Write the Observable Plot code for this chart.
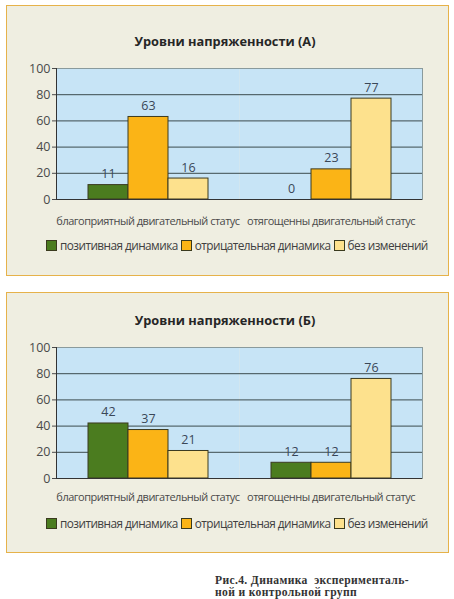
<!DOCTYPE html>
<html>
<head>
<meta charset="utf-8">
<script src="https://cdn.jsdelivr.net/npm/d3@7"></script>
<script src="https://cdn.jsdelivr.net/npm/@observablehq/plot@0.6"></script>
<style>
  html, body { margin: 0; padding: 0; background: #ffffff; }
  body { width: 454px; height: 599px; position: relative; overflow: hidden; font-family: "Open Sans", sans-serif; }
  .panel { position: absolute; left: 6px; width: 441px; border: 1.5px solid #e6b24a; background: #efeee1; box-sizing: content-box; }
  .title { position: absolute; left: 0; width: 450px; text-align: center; font-weight: bold; font-size: 12.8px; color: #262626; }
  .chart { position: absolute; left: 0; width: 454px; }
  .legend { position: absolute; left: 46px; display: flex; align-items: center; font-size: 11.8px; letter-spacing: -0.55px; color: #404040; white-space: nowrap; }
  .legend .sw { width: 9px; height: 9px; border: 1px solid #3a3a1e; display: inline-block; margin-right: 3px; }
  .legend .item { display: flex; align-items: center; margin-right: 3px; }
  .caption { position: absolute; left: 215px; font-family: "Liberation Serif", serif; font-weight: bold; font-size: 11.6px; line-height: 12px; letter-spacing: 0.35px; color: #333; white-space: nowrap; }
  g[aria-label="fx-axis tick label"] text { letter-spacing: -0.5px; font-size: 11px; }
</style>
</head>
<body>
<div class="panel" style="top:5px;height:269px;"></div>
<div class="panel" style="top:292px;height:259px;"></div>
<div id="root"></div>
<div class="caption" style="top:575px;">Рис.4. Динамика &nbsp;эксперименталь-<br>ной и контрольной групп</div>
<script>
const categories = ["благоприятный двигательный статус", "отягощенны двигательный статус"];
const series = ["позитивная динамика", "отрицательная динамика", "без изменений"];
const colors = ["#4b7c1f", "#fbb416", "#fde18d"];
const titles = ["Уровни напряженности (А)", "Уровни напряженности (Б)"];
// values per chart: [category][series]
const valuesA = [[11, 63, 16], [0, 23, 77]];
const valuesB = [[42, 37, 21], [12, 12, 76]];
const yTicks = [0, 20, 40, 60, 80, 100];
const gridTicks = [20, 40, 60, 80];

const layouts = [
  {values: valuesA, title: titles[0], titleTop: 32, chartTop: 48, legendTop: 237, pad: 18},
  {values: valuesB, title: titles[1], titleTop: 311, chartTop: 327, legendTop: 515, pad: 15}
];

const root = document.getElementById("root");

for (const L of layouts) {
  const data = [];
  categories.forEach((c, i) => series.forEach((s, j) => data.push({cat: c, series: s, value: L.values[i][j]})));

  const t = document.createElement("div");
  t.className = "title";
  t.style.top = L.titleTop + "px";
  t.textContent = L.title;
  root.appendChild(t);

  const plot = Plot.plot({
    width: 454,
    height: 20 + 131 + 35,
    marginLeft: 55,
    marginRight: 32,
    marginTop: 20,
    marginBottom: 35,
    style: {fontFamily: "Open Sans", fontSize: "12.5px", color: "#4a4a4a", background: "transparent", overflow: "visible"},
    fx: {domain: categories, paddingInner: 0, paddingOuter: 0, label: null, axis: "bottom", tickSize: 0, tickPadding: L.pad},
    x: {domain: series, paddingInner: 0, paddingOuter: 0.738, axis: null},
    y: {domain: [0, 100], ticks: yTicks, tickSize: 4, tickPadding: 2, label: null},
    color: {domain: series, range: colors},
    marks: [
      Plot.frame({fill: "#c7e4f6", stroke: "none"}),
      Plot.ruleY(gridTicks, {stroke: "#3c4c4e", strokeWidth: 1}),
      Plot.ruleY([100], {stroke: "#8a9a9c", strokeWidth: 1}),
      Plot.frame({anchor: "right", facetAnchor: "right", stroke: "#8a9a9c"}),
      Plot.frame({anchor: "left", facetAnchor: "left", stroke: "#333"}),
      Plot.barY(data, {fx: "cat", x: "series", y: "value", fill: "series", stroke: "#3b3a20", strokeWidth: 1}),
      Plot.text(data, {fx: "cat", x: "series", y: "value", text: d => String(d.value), dy: -11, fill: "#3a4757", fontSize: 12.5}),
      Plot.ruleY([0], {stroke: "#333", strokeWidth: 1.2})
    ]
  });
  const c = document.createElement("div");
  c.className = "chart";
  c.style.top = L.chartTop + "px";
  c.appendChild(plot);
  root.appendChild(c);

  const lg = document.createElement("div");
  lg.className = "legend";
  lg.style.top = L.legendTop + "px";
  series.forEach((s, j) => {
    const it = document.createElement("span");
    it.className = "item";
    const sw = document.createElement("span");
    sw.className = "sw";
    sw.style.background = colors[j];
    it.appendChild(sw);
    it.appendChild(document.createTextNode(s));
    lg.appendChild(it);
  });
  root.appendChild(lg);
}
</script>
</body>
</html>
